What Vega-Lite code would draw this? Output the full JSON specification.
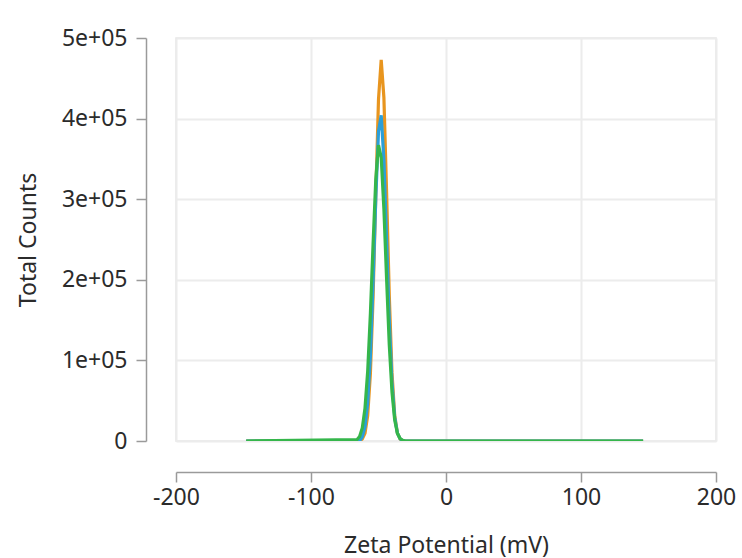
{
  "$schema": "https://vega.github.io/schema/vega-lite/v6.json",
  "autosize": {"type": "none"},
  "padding": {"left": 176, "top": 38, "right": 26, "bottom": 117},
  "width": 540,
  "height": 403,
  "background": "white",
  "config": {
    "font": "Noto Sans",
    "view": {"stroke": "#e6e6e6", "strokeWidth": 1.5},
    "axis": {
      "labelFont": "Noto Sans",
      "titleFont": "Noto Sans",
      "labelColor": "#2b2b2b",
      "titleColor": "#2b2b2b",
      "labelFontSize": 23,
      "titleFontSize": 23,
      "titleFontWeight": "normal",
      "domainColor": "#9a9a9a",
      "domainWidth": 1.5,
      "tickColor": "#9a9a9a",
      "tickWidth": 1.5,
      "gridColor": "#ececec",
      "gridWidth": 2
    }
  },
  "data": {
    "values": [
      {"series": "S1", "zeta": -148, "counts": 0},
      {"series": "S1", "zeta": -64, "counts": 0},
      {"series": "S1", "zeta": -62, "counts": 2400},
      {"series": "S1", "zeta": -60, "counts": 9700},
      {"series": "S1", "zeta": -58, "counts": 31500},
      {"series": "S1", "zeta": -56, "counts": 84000},
      {"series": "S1", "zeta": -54, "counts": 179000},
      {"series": "S1", "zeta": -52, "counts": 306000},
      {"series": "S1", "zeta": -50, "counts": 424000},
      {"series": "S1", "zeta": -48, "counts": 473000},
      {"series": "S1", "zeta": -46, "counts": 426000},
      {"series": "S1", "zeta": -44, "counts": 308000},
      {"series": "S1", "zeta": -42, "counts": 180000},
      {"series": "S1", "zeta": -40, "counts": 84500},
      {"series": "S1", "zeta": -38, "counts": 32000},
      {"series": "S1", "zeta": -36, "counts": 9800},
      {"series": "S1", "zeta": -34, "counts": 2400},
      {"series": "S1", "zeta": -32, "counts": 0},
      {"series": "S1", "zeta": 146, "counts": 0},
      {"series": "S2", "zeta": -148, "counts": 0},
      {"series": "S2", "zeta": -64, "counts": 0},
      {"series": "S2", "zeta": -62, "counts": 5300},
      {"series": "S2", "zeta": -60, "counts": 17400},
      {"series": "S2", "zeta": -58, "counts": 47300},
      {"series": "S2", "zeta": -56, "counts": 106000},
      {"series": "S2", "zeta": -54, "counts": 197000},
      {"series": "S2", "zeta": -52, "counts": 302000},
      {"series": "S2", "zeta": -50, "counts": 384000},
      {"series": "S2", "zeta": -48, "counts": 404000},
      {"series": "S2", "zeta": -46, "counts": 349000},
      {"series": "S2", "zeta": -44, "counts": 250000},
      {"series": "S2", "zeta": -42, "counts": 149000},
      {"series": "S2", "zeta": -40, "counts": 72500},
      {"series": "S2", "zeta": -38, "counts": 29500},
      {"series": "S2", "zeta": -36, "counts": 9800},
      {"series": "S2", "zeta": -34, "counts": 2700},
      {"series": "S2", "zeta": -32, "counts": 0},
      {"series": "S2", "zeta": 146, "counts": 0},
      {"series": "S3", "zeta": -148, "counts": 0},
      {"series": "S3", "zeta": -66, "counts": 1600},
      {"series": "S3", "zeta": -64, "counts": 5500},
      {"series": "S3", "zeta": -62, "counts": 16200},
      {"series": "S3", "zeta": -60, "counts": 40800},
      {"series": "S3", "zeta": -58, "counts": 86700},
      {"series": "S3", "zeta": -56, "counts": 158000},
      {"series": "S3", "zeta": -54, "counts": 245000},
      {"series": "S3", "zeta": -52, "counts": 325000},
      {"series": "S3", "zeta": -50, "counts": 367000},
      {"series": "S3", "zeta": -48, "counts": 352000},
      {"series": "S3", "zeta": -46, "counts": 288000},
      {"series": "S3", "zeta": -44, "counts": 201000},
      {"series": "S3", "zeta": -42, "counts": 119000},
      {"series": "S3", "zeta": -40, "counts": 60500},
      {"series": "S3", "zeta": -38, "counts": 26100},
      {"series": "S3", "zeta": -36, "counts": 9600},
      {"series": "S3", "zeta": -34, "counts": 3000},
      {"series": "S3", "zeta": -32, "counts": 800},
      {"series": "S3", "zeta": -30, "counts": 0},
      {"series": "S3", "zeta": 146, "counts": 0}
    ]
  },
  "mark": {"type": "line", "strokeWidth": 3.2, "clip": true},
  "encoding": {
    "x": {
      "field": "zeta",
      "type": "quantitative",
      "title": "Zeta Potential (mV)",
      "scale": {"domain": [-200, 200], "nice": false, "zero": false},
      "axis": {
        "values": [-200, -100, 0, 100, 200],
        "offset": 31,
        "tickSize": 10,
        "labelPadding": 4,
        "titlePadding": 25,
        "labelFlush": false,
        "labelExpr": "replace(format(datum.value, 'd'), '\u2212', '-')"
      }
    },
    "y": {
      "field": "counts",
      "type": "quantitative",
      "title": "Total Counts",
      "scale": {"domain": [0, 500000], "nice": false},
      "axis": {
        "values": [0, 100000, 200000, 300000, 400000, 500000],
        "offset": 30,
        "tickSize": 10,
        "labelPadding": 9,
        "titlePadding": 21,
        "labelFlush": false,
        "labelExpr": "datum.value == 0 ? '0' : format(datum.value / 100000, 'd') + 'e+05'"
      }
    },
    "color": {
      "field": "series",
      "type": "nominal",
      "legend": null,
      "scale": {"domain": ["S1", "S2", "S3"], "range": ["#e8951f", "#2b9fd9", "#35b64b"]}
    }
  }
}
